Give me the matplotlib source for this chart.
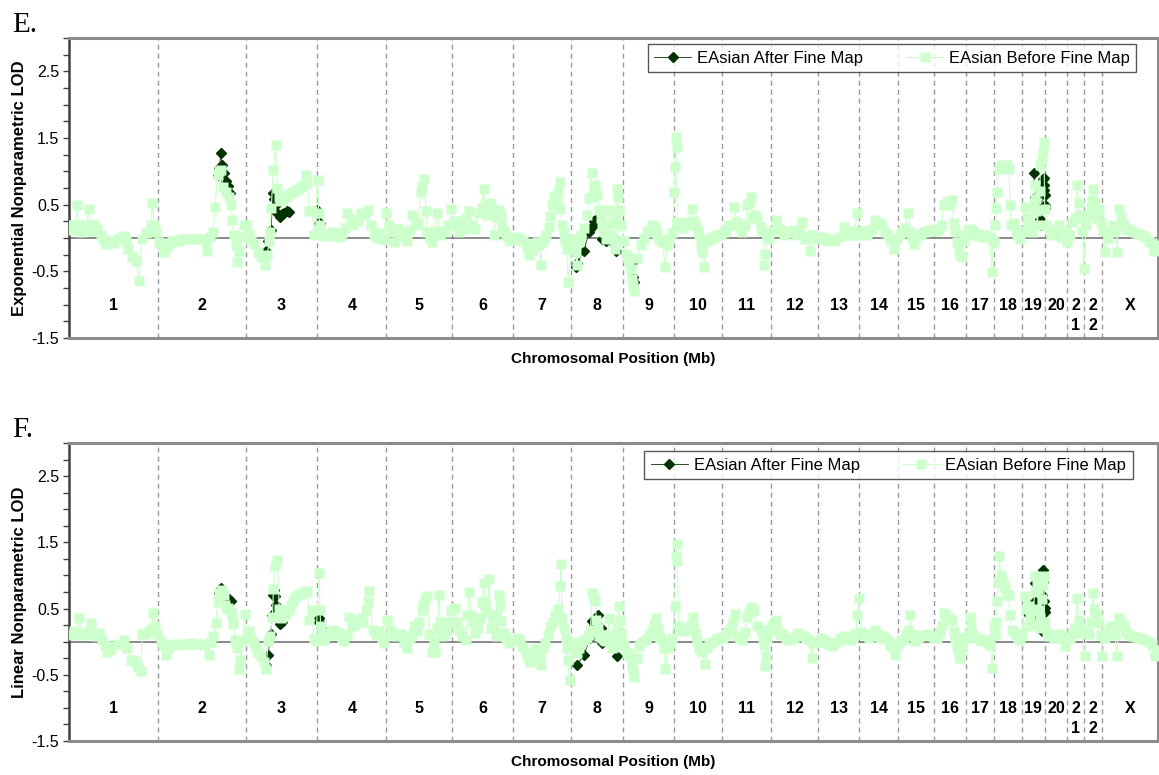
import numpy as np
import matplotlib
matplotlib.use("Agg")
import matplotlib.pyplot as plt
from matplotlib.ticker import MultipleLocator

plt.rcParams['font.family'] = ['Liberation Sans', 'DejaVu Sans']

# chromosome names, labels and lengths (Mb)
chroms = ['1', '2', '3', '4', '5', '6', '7', '8', '9', '10', '11', '12',
          '13', '14', '15', '16', '17', '18', '19', '20', '21', '22', 'X']
chrom_labels = ['1', '2', '3', '4', '5', '6', '7', '8', '9', '10', '11', '12',
                '13', '14', '15', '16', '17', '18', '19', '20', '2\n1', '2\n2', 'X']
chrom_len = [247, 243, 199, 191, 181, 171, 159, 146, 140, 135, 134, 132,
             114, 106, 100, 89, 79, 76, 64, 62, 47, 50, 155]

# exponential LOD, before fine mapping (genome position Mb, LOD)
e_before = [
    (0, 0.19), (4, 0.12), (9, 0.14), (13, 0.2), (18, 0.17), (23, 0.49), (27, 0.15), (32, 0.09), (37, 0.13),
    (42, 0.19), (48, 0.16), (55, 0.43), (60, 0.19), (64, 0.11), (69, 0.19), (74, 0.14), (79, 0.14), (88, 0.04),
    (93, -0.02), (102, -0.09), (108, -0.05), (116, -0.04), (124, -0.07), (140, 0.0), (148, 0.02), (152, 0.03),
    (157, -0.04), (165, -0.16), (174, -0.29), (185, -0.34), (194, -0.64), (202, -0.01), (213, 0.07), (227, 0.19),
    (231, 0.53), (236, 0.19), (242, 0.09),
    (250, -0.06), (257, -0.12), (264, -0.21), (273, -0.14), (280, -0.08), (287, -0.04), (296, -0.05), (305, -0.04),
    (314, -0.02), (324, -0.01), (337, -0.02), (351, -0.01), (365, -0.02), (379, -0.04), (384, -0.19), (392, 0.02),
    (400, 0.09), (405, 0.47), (412, 0.94), (417, 1.0), (421, 1.02), (427, 0.77), (435, 0.69), (444, 0.62),
    (450, 0.49), (453, 0.27), (458, 0.04), (462, -0.1), (467, -0.36), (472, -0.19), (481, 0.02), (486, 0.19),
    (493, 0.19), (499, 0.05), (504, -0.04), (513, -0.09), (523, -0.21), (532, -0.29), (543, -0.41), (550, -0.26),
    (555, -0.04), (558, 0.09), (561, 0.45), (566, 1.02), (573, 1.39), (578, 0.75), (581, 0.62), (586, 0.55),
    (592, 0.57), (601, 0.62), (608, 0.64), (615, 0.67), (622, 0.69), (629, 0.72), (636, 0.74), (643, 0.77),
    (650, 0.8), (657, 0.94), (661, 0.82), (666, 0.4), (675, 0.4), (680, 0.04),
    (690, 0.87), (692, 0.38), (696, 0.19), (703, 0.04), (710, 0.03), (717, 0.04), (724, 0.06), (731, 0.09),
    (737, 0.03), (744, 0.04), (751, 0.02), (758, 0.07), (765, 0.15), (772, 0.38), (781, 0.24), (788, 0.2),
    (795, 0.29), (802, 0.25), (809, 0.37), (818, 0.35), (828, 0.42), (837, 0.19), (846, 0.04), (853, 0.0),
    (860, 0.07), (867, -0.02), (874, -0.01), (880, 0.38),
    (888, 0.19), (895, 0.1), (902, -0.06), (911, 0.14), (918, 0.08), (925, 0.02), (931, 0.06), (938, -0.04),
    (945, 0.12), (952, 0.34), (962, 0.19), (968, 0.23), (976, 0.69), (980, 0.78), (985, 0.89), (990, 0.4),
    (994, 0.09), (1000, 0.0), (1007, -0.06), (1014, 0.1), (1021, 0.38), (1030, 0.04), (1037, 0.1), (1044, 0.09),
    (1052, 0.2), (1058, 0.44),
    (1067, 0.19), (1074, 0.25), (1081, 0.09), (1088, 0.2), (1095, 0.14), (1102, 0.3), (1109, 0.4), (1118, 0.19),
    (1127, 0.14), (1137, 0.38), (1144, 0.45), (1150, 0.74), (1155, 0.5), (1160, 0.34), (1169, 0.52), (1174, 0.4),
    (1178, 0.04), (1187, 0.32), (1192, 0.42), (1197, 0.34), (1201, 0.19), (1206, 0.1), (1211, 0.04), (1218, 0.0),
    (1224, -0.04),
    (1238, -0.01), (1245, 0.02), (1252, -0.01), (1259, -0.05), (1266, -0.09), (1272, -0.15), (1277, -0.26),
    (1283, -0.18), (1289, -0.11), (1298, -0.06), (1303, -0.1), (1308, -0.41), (1312, -0.06), (1317, -0.01),
    (1324, 0.05), (1331, 0.17), (1333, 0.33), (1340, 0.5), (1345, 0.63), (1352, 0.55), (1357, 0.7), (1361, 0.84),
    (1363, 0.44), (1368, 0.2), (1372, 0.07), (1376, -0.05), (1380, -0.16), (1384, -0.66),
    (1395, -0.01), (1400, -0.1), (1405, -0.21), (1409, -0.41), (1414, -0.06), (1421, 0.04), (1428, 0.15),
    (1437, 0.34), (1443, 0.6), (1449, 0.97), (1451, 0.62), (1455, 0.7), (1460, 0.79), (1465, 0.64), (1470, 0.42),
    (1475, 0.3), (1479, 0.19), (1483, 0.09), (1488, -0.01), (1492, 0.1), (1497, 0.42), (1502, 0.22), (1507, 0.05),
    (1511, -0.01), (1514, -0.16), (1518, 0.3), (1520, 0.74), (1523, 0.62), (1525, 0.42), (1532, 0.19),
    (1540, -0.05), (1544, -0.24), (1549, -0.3), (1553, -0.36), (1559, -0.46), (1562, -0.61), (1565, -0.71),
    (1567, -0.79), (1576, -0.3), (1585, -0.11), (1595, 0.0), (1604, 0.09), (1610, 0.12), (1617, 0.19),
    (1622, 0.16), (1627, 0.14), (1632, 0.05), (1636, -0.01), (1645, -0.06), (1654, -0.44), (1658, -0.1),
    (1664, -0.01), (1673, 0.07),
    (1679, 0.69), (1680, 1.07), (1682, 1.52), (1685, 1.37), (1687, 0.24), (1692, 0.2), (1696, 0.19), (1703, 0.15),
    (1710, 0.24), (1719, 0.2), (1728, 0.44), (1733, 0.25), (1738, 0.19), (1743, 0.1), (1747, 0.04), (1752, -0.1),
    (1756, -0.21), (1761, -0.44), (1768, -0.05), (1775, -0.01), (1782, 0.0), (1789, 0.02), (1796, 0.05),
    (1802, 0.04), (1808, 0.06),
    (1816, 0.09), (1823, 0.12), (1830, 0.19), (1837, 0.2), (1844, 0.47), (1853, 0.24), (1860, 0.15), (1867, 0.09),
    (1874, 0.2), (1881, 0.49), (1886, 0.52), (1890, 0.62), (1895, 0.32), (1902, 0.35), (1909, 0.29), (1918, 0.17),
    (1923, 0.1), (1927, -0.41), (1930, -0.24), (1935, 0.04), (1941, -0.01),
    (1952, 0.1), (1960, 0.27), (1969, 0.14), (1976, 0.1), (1983, 0.04), (1992, 0.08), (2001, 0.09), (2010, 0.12),
    (2019, 0.04), (2026, 0.1), (2032, 0.24), (2042, -0.01), (2049, 0.02), (2056, -0.19), (2060, 0.04),
    (2067, 0.05), (2074, -0.01),
    (2085, 0.02), (2093, -0.01), (2100, 0.0), (2106, -0.04), (2115, -0.02), (2125, -0.04), (2135, 0.02),
    (2148, 0.17), (2157, 0.04), (2164, 0.1), (2171, 0.04), (2178, 0.1), (2185, 0.38), (2190, 0.04),
    (2199, 0.09), (2206, 0.1), (2213, 0.04), (2220, 0.12), (2227, 0.14), (2236, 0.27), (2245, 0.19), (2250, 0.22),
    (2255, 0.19), (2264, 0.09), (2271, 0.05), (2278, -0.01), (2283, -0.05), (2287, -0.16), (2296, -0.01),
    (2304, 0.05), (2310, 0.09), (2318, 0.15), (2328, 0.38), (2333, 0.09), (2338, 0.0), (2342, -0.09), (2350, 0.0),
    (2356, 0.04), (2363, 0.06), (2370, 0.09), (2377, 0.1), (2384, 0.12), (2391, 0.1), (2398, 0.14),
    (2405, 0.1), (2412, 0.14), (2420, 0.2), (2426, 0.49), (2435, 0.54), (2442, 0.5), (2449, 0.57), (2453, 0.22),
    (2458, 0.1), (2463, -0.06), (2467, -0.19), (2472, -0.25), (2476, -0.29), (2481, -0.05), (2486, 0.04),
    (2494, 0.1), (2500, 0.14), (2507, 0.1), (2513, 0.04), (2520, 0.06), (2526, 0.03), (2532, 0.02), (2539, 0.05),
    (2546, 0.02), (2553, 0.0), (2560, -0.51), (2562, -0.04), (2565, -0.06),
    (2569, 0.19), (2572, 0.45), (2574, 0.69), (2578, 1.04), (2583, 1.06), (2588, 1.09), (2595, 1.07), (2601, 1.09),
    (2606, 1.04), (2610, 0.5), (2613, 0.19), (2620, 0.22), (2625, 0.1), (2629, 0.04), (2634, 0.06), (2638, -0.01),
    (2648, 0.1), (2652, 0.47), (2657, 0.3), (2662, 0.19), (2667, 0.15), (2671, 0.09), (2675, 0.5), (2678, 0.79),
    (2680, 0.59), (2683, 0.4), (2685, 0.19), (2689, 0.42), (2692, 0.7), (2694, 1.09), (2698, 1.19), (2701, 1.3),
    (2703, 1.44), (2706, 0.44),
    (2710, 0.2), (2717, 0.14), (2724, 0.05), (2731, 0.09), (2738, 0.1), (2745, 0.19), (2752, 0.02), (2759, 0.04),
    (2765, 0.1), (2768, -0.06),
    (2775, 0.05), (2782, 0.24), (2789, 0.3), (2796, 0.8), (2800, 0.52), (2805, 0.34), (2810, 0.1), (2814, -0.46),
    (2820, 0.2), (2828, 0.34), (2834, 0.45), (2837, 0.57), (2840, 0.74), (2846, 0.52), (2851, 0.3), (2856, 0.44),
    (2863, 0.24),
    (2868, 0.1), (2874, -0.21), (2881, 0.0), (2888, 0.09), (2895, 0.2), (2902, 0.1), (2907, -0.21), (2911, 0.44),
    (2918, 0.3), (2925, 0.19), (2932, 0.12), (2939, 0.14), (2948, 0.1), (2958, 0.07), (2967, 0.06), (2976, 0.04),
    (2985, 0.02), (2994, -0.04), (3002, -0.08), (3008, -0.19), (3018, -0.11),
]

# exponential LOD, after fine mapping
e_after = [
    (412, 0.94), (417, 1.05), (421, 1.28), (424, 1.1), (430, 0.97), (436, 0.85), (442, 0.78), (446, 0.68),
    (546, -0.19), (552, -0.05), (560, 0.12), (566, 0.67), (569, 0.59), (573, 0.49), (578, 0.37), (585, 0.32),
    (592, 0.36), (597, 0.37), (604, 0.4), (610, 0.39),
    (689, 0.42), (692, 0.23), (695, 0.22),
    (1405, -0.44), (1409, -0.38), (1428, -0.19), (1442, 0.09), (1446, 0.14), (1451, 0.17), (1455, 0.25),
    (1460, 0.24), (1465, 0.3), (1470, 0.29), (1479, -0.01), (1488, -0.04), (1516, -0.19),
    (1555, -0.3), (1562, -0.37), (1564, -0.59), (1567, -0.66),
    (2675, 0.97), (2680, 0.62), (2686, 0.45), (2692, 0.28), (2696, 0.2), (2701, 0.88), (2703, 0.9),
    (2704, 0.8), (2705, 0.72), (2706, 0.64), (2707, 0.5), (2708, 0.45),
]

# linear LOD, before fine mapping
f_before = [
    (0, 0.11), (7, 0.1), (14, 0.16), (21, 0.12), (28, 0.36), (35, 0.1), (42, 0.11), (50, 0.15), (60, 0.28),
    (65, 0.12), (69, 0.11), (76, 0.09), (83, 0.13), (92, 0.03), (99, -0.05), (106, -0.15), (113, -0.12),
    (120, -0.07), (135, -0.03), (153, 0.03), (162, -0.1), (171, -0.27), (178, -0.28), (185, -0.32), (192, -0.38),
    (199, -0.45), (203, 0.11), (212, 0.12), (222, 0.16), (229, 0.2), (234, 0.43), (239, 0.23), (245, 0.11),
    (254, 0.01), (261, -0.05), (268, -0.2), (275, -0.1), (282, -0.05), (292, -0.04), (305, -0.05), (318, -0.03),
    (330, -0.03), (342, -0.02), (355, -0.03), (365, -0.04), (375, -0.05), (387, -0.2), (393, 0.0), (400, 0.08),
    (407, 0.28), (412, 0.6), (416, 0.74), (421, 0.78), (425, 0.76), (429, 0.7), (433, 0.56), (437, 0.5),
    (442, 0.51), (448, 0.45), (453, 0.41), (455, 0.26), (461, 0.03), (466, -0.1), (472, -0.42), (474, -0.27),
    (481, 0.01), (488, 0.42),
    (493, 0.05), (499, 0.16), (506, 0.05), (513, -0.02), (518, -0.1), (523, -0.15), (532, -0.22), (540, -0.3),
    (546, -0.42), (553, 0.01), (558, 0.08), (564, 0.38), (567, 0.8), (571, 1.14), (578, 1.24), (583, 0.5),
    (587, 0.36), (592, 0.38), (597, 0.41), (603, 0.45), (610, 0.48), (615, 0.55), (620, 0.61), (627, 0.67),
    (634, 0.71), (640, 0.72), (647, 0.74), (654, 0.75), (661, 0.76), (666, 0.33), (673, 0.48), (680, 0.05),
    (684, 0.01),
    (694, 1.04), (696, 0.48), (698, 0.23), (703, 0.1), (708, 0.03), (714, 0.08), (721, 0.13), (728, 0.15),
    (735, 0.18), (742, 0.1), (749, 0.13), (756, 0.05), (763, 0.01), (770, 0.1), (777, 0.38), (786, 0.23),
    (793, 0.25), (800, 0.31), (809, 0.36), (816, 0.3), (823, 0.48), (828, 0.6), (832, 0.76), (842, 0.18),
    (851, 0.1), (860, 0.16), (867, 0.05), (874, -0.02), (883, 0.33),
    (892, 0.18), (899, 0.1), (906, 0.08), (913, 0.12), (920, 0.11), (929, 0.0), (938, -0.1), (945, 0.05),
    (950, 0.1), (957, 0.23), (966, 0.16), (972, 0.3), (978, 0.48), (983, 0.55), (988, 0.64), (994, 0.69),
    (999, 0.11), (1006, -0.15), (1011, 0.0), (1016, -0.15), (1021, 0.2), (1026, 0.7), (1030, 0.3), (1035, 0.08),
    (1042, 0.12), (1049, 0.18), (1054, 0.3), (1058, 0.48),
    (1064, 0.3), (1070, 0.51), (1075, 0.3), (1081, 0.18), (1090, 0.08), (1100, 0.03), (1105, 0.4), (1109, 0.75),
    (1116, 0.41), (1121, 0.3), (1127, 0.13), (1134, 0.2), (1141, 0.36), (1146, 0.6), (1150, 0.89), (1155, 0.56),
    (1160, 0.45), (1166, 0.94), (1169, 0.21), (1174, 0.38), (1178, 0.2), (1183, 0.08), (1188, 0.4), (1192, 0.71),
    (1194, 0.55), (1199, 0.31), (1206, 0.13), (1213, 0.05), (1220, -0.02), (1227, 0.02),
    (1238, 0.03), (1245, 0.05), (1252, 0.01), (1259, -0.08), (1266, -0.17), (1272, -0.25), (1278, -0.3),
    (1284, -0.2), (1289, -0.15), (1295, -0.1), (1301, -0.17), (1306, -0.25), (1310, -0.35), (1315, -0.1),
    (1321, -0.02), (1327, 0.1), (1333, 0.23), (1341, 0.3), (1349, 0.41), (1356, 0.5), (1363, 0.84), (1364, 1.18),
    (1368, 0.36), (1372, 0.21), (1377, 0.06), (1381, -0.1), (1384, -0.27), (1388, -0.58),
    (1395, 0.0), (1400, -0.05), (1405, -0.1), (1409, -0.17), (1414, -0.1), (1419, -0.02), (1428, 0.02),
    (1437, 0.06), (1442, 0.1), (1446, 0.18), (1451, 0.73), (1456, 0.66), (1460, 0.61), (1462, 0.33), (1466, 0.2),
    (1470, 0.11), (1475, 0.08), (1479, 0.06), (1484, 0.03), (1490, 0.01), (1494, 0.1), (1497, 0.36), (1502, 0.05),
    (1507, -0.1), (1511, -0.08), (1516, -0.05), (1521, 0.2), (1525, 0.54), (1527, 0.33), (1530, 0.13),
    (1534, -0.02),
    (1540, -0.05), (1548, -0.17), (1553, -0.2), (1557, -0.22), (1562, -0.37), (1565, -0.45), (1567, -0.53),
    (1574, -0.25), (1581, -0.07), (1590, 0.0), (1599, 0.03), (1608, 0.1), (1617, 0.18), (1623, 0.25), (1629, 0.36),
    (1633, 0.2), (1636, 0.08), (1640, 0.05), (1645, 0.03), (1650, -0.1), (1654, -0.42), (1660, -0.1),
    (1666, -0.02), (1673, 0.06),
    (1680, 0.54), (1682, 1.29), (1685, 1.48), (1687, 1.22), (1691, 0.23), (1698, 0.18), (1705, 0.16), (1712, 0.2),
    (1719, 0.18), (1725, 0.25), (1730, 0.38), (1734, 0.2), (1738, 0.11), (1742, 0.0), (1747, -0.1), (1752, -0.12),
    (1756, -0.15), (1764, -0.33), (1770, -0.1), (1775, -0.02), (1784, 0.0), (1793, 0.03), (1800, 0.05),
    (1807, 0.06),
    (1814, 0.05), (1821, 0.11), (1828, 0.15), (1835, 0.21), (1841, 0.3), (1847, 0.42), (1853, 0.08), (1860, 0.05),
    (1867, 0.03), (1874, 0.15), (1881, 0.38), (1886, 0.45), (1890, 0.53), (1895, 0.5), (1900, 0.48), (1909, 0.23),
    (1918, 0.18), (1924, 0.05), (1927, -0.05), (1930, -0.37), (1932, -0.22), (1936, 0.05), (1941, 0.18),
    (1950, 0.25), (1960, 0.33), (1964, 0.18), (1971, 0.12), (1978, 0.11), (1988, 0.05), (1997, 0.03), (2004, 0.05),
    (2010, 0.06), (2016, 0.1), (2023, 0.13), (2030, 0.1), (2037, 0.08), (2044, 0.05), (2051, 0.03), (2060, -0.25),
    (2064, 0.0), (2069, -0.02), (2075, 0.0),
    (2085, 0.05), (2093, 0.03), (2100, 0.0), (2108, -0.03), (2116, -0.07), (2125, -0.02), (2134, 0.01),
    (2142, 0.05), (2153, 0.08), (2160, 0.05), (2167, 0.03), (2174, 0.06), (2181, 0.11), (2186, 0.41), (2190, 0.66),
    (2197, 0.15), (2204, 0.11), (2211, 0.1), (2218, 0.06), (2227, 0.12), (2236, 0.18), (2243, 0.12), (2250, 0.06),
    (2257, 0.08), (2264, 0.06), (2271, 0.02), (2278, -0.05), (2284, -0.1), (2290, -0.2), (2295, -0.05),
    (2303, 0.0), (2309, 0.02), (2315, 0.03), (2322, 0.1), (2328, 0.18), (2333, 0.41), (2340, 0.1), (2347, 0.01),
    (2354, 0.05), (2361, 0.08), (2370, 0.1), (2379, 0.11), (2386, 0.1), (2393, 0.08),
    (2400, 0.05), (2407, 0.06), (2415, 0.15), (2420, 0.25), (2426, 0.43), (2433, 0.4), (2440, 0.36), (2449, 0.33),
    (2453, 0.16), (2458, 0.05), (2463, -0.1), (2467, -0.2), (2472, -0.25), (2477, -0.1), (2481, 0.06),
    (2486, 0.05),
    (2494, 0.1), (2500, 0.38), (2502, 0.23), (2507, 0.1), (2513, 0.06), (2520, 0.05), (2526, 0.03), (2532, 0.01),
    (2540, 0.02), (2549, -0.02), (2555, -0.05), (2560, -0.4), (2564, 0.23),
    (2569, 0.1), (2572, 0.3), (2574, 0.61), (2577, 0.9), (2580, 1.29), (2584, 1.0), (2588, 0.91), (2593, 0.85),
    (2597, 0.81), (2602, 0.7), (2606, 0.71), (2610, 0.4), (2615, 0.18), (2620, 0.15), (2625, 0.11), (2631, 0.05),
    (2638, 0.03), (2643, 0.1),
    (2650, 0.69), (2654, 0.5), (2657, 0.23), (2662, 0.54), (2666, 0.38), (2670, 0.25), (2675, 0.5), (2678, 0.75),
    (2680, 0.99), (2684, 0.85), (2687, 0.79), (2689, 0.48), (2692, 0.35), (2694, 0.21), (2697, 0.64), (2700, 0.85),
    (2703, 0.99), (2706, 0.3),
    (2712, 0.15), (2717, 0.08), (2724, 0.1), (2731, 0.06), (2738, 0.05), (2745, 0.11), (2752, 0.08),
    (2761, -0.07), (2766, 0.05),
    (2775, 0.05), (2782, 0.11), (2789, 0.2), (2796, 0.66), (2800, 0.33), (2805, 0.2), (2810, 0.13), (2817, -0.22),
    (2822, 0.15), (2828, 0.11), (2834, 0.3), (2840, 0.73), (2843, 0.5), (2846, 0.33), (2851, 0.4), (2856, 0.28),
    (2861, 0.1), (2865, -0.22),
    (2872, 0.05), (2879, 0.13), (2886, 0.2), (2893, 0.23), (2900, 0.1), (2907, -0.21), (2911, 0.36), (2918, 0.3),
    (2925, 0.23), (2932, 0.15), (2940, 0.1), (2948, 0.08), (2958, 0.07), (2967, 0.06), (2976, 0.05), (2985, 0.03),
    (2995, 0.0), (3004, -0.05), (3013, -0.22), (3019, -0.12),
]

# linear LOD, after fine mapping
f_after = [
    (416, 0.74), (421, 0.81), (427, 0.72), (433, 0.6), (439, 0.66), (444, 0.64), (449, 0.62),
    (546, -0.35), (552, -0.2), (559, 0.11), (564, 0.41), (567, 0.7), (569, 0.78), (571, 0.69), (575, 0.56),
    (578, 0.5), (585, 0.26), (592, 0.3), (600, 0.4),
    (692, 0.36), (694, 0.3), (696, 0.28), (698, 0.21),
    (1409, -0.35), (1428, -0.2), (1446, 0.06), (1451, 0.31), (1456, 0.25), (1462, 0.21), (1468, 0.41),
    (1474, 0.2), (1479, -0.02), (1520, -0.22),
    (2660, 0.42), (2675, 0.41), (2678, 0.61), (2680, 0.89), (2697, 0.16), (2698, 0.71), (2700, 1.08),
    (2701, 0.9), (2703, 0.61), (2705, 0.5), (2706, 0.45), (2708, 0.51),
]

LIGHT = '#ccffcc'
DARK = '#003300'

starts = np.concatenate([[0], np.cumsum(chrom_len)[:-1]])
ends = np.cumsum(chrom_len)
mids = starts + np.array(chrom_len) / 2.0


def runs(points, gap=40):
    # split into separate stretches so distant fine-mapped regions are not joined
    pts = np.array(points, dtype=float)
    cut = np.where(np.diff(pts[:, 0]) > gap)[0] + 1
    return np.split(pts, cut)


def draw_panel(ax, before, after, ylabel, leg_anchor):
    for b in ends[:-1]:
        ax.axvline(b, color='#9a9a9a', lw=1.0, ls=(0, (3.6, 2.9)), zorder=1)
    ax.axhline(0, color='#808080', lw=1.3, zorder=2)

    for i, seg in enumerate(runs(after)):
        ax.plot(seg[:, 0], seg[:, 1], color=DARK, lw=0.6, marker='D', ms=5.5,
                mec=DARK, mfc=DARK, zorder=3,
                label='EAsian After Fine Map' if i == 0 else None)
    bp = np.array(before, dtype=float)
    ax.plot(bp[:, 0], bp[:, 1], color=LIGHT, lw=0.8, marker='s', ms=7.4,
            mec='none', mfc=LIGHT, zorder=4, label='EAsian Before Fine Map')

    for lab, m in zip(chrom_labels, mids):
        ax.text(m, -0.9, lab, ha='center', va='top', fontsize=11.5,
                fontweight='bold', linespacing=1.4, zorder=5)

    ax.set_xlim(0, ends[-1])
    ax.set_ylim(-1.5, 3.0)
    ax.set_xticks([])
    ax.set_yticks([-1.5, -0.5, 0.5, 1.5, 2.5])
    ax.set_yticklabels(['-1.5', '-0.5', '0.5', '1.5', '2.5'])
    ax.yaxis.set_minor_locator(MultipleLocator(0.25))
    ax.tick_params(axis='y', which='both', direction='out', length=4,
                   width=1, color='#404040', labelsize=11.5, pad=3)
    for side in ['top', 'right', 'bottom']:
        ax.spines[side].set_color('#8c8c8c')
        ax.spines[side].set_linewidth(2.2)
    ax.spines['left'].set_color('#404040')
    ax.spines['left'].set_linewidth(1.8)

    ax.set_ylabel(ylabel, fontsize=12, fontweight='bold', labelpad=3)
    ax.set_xlabel('Chromosomal Position (Mb)', fontsize=11, fontweight='bold', labelpad=10)

    leg = ax.legend(loc='upper right', bbox_to_anchor=leg_anchor, ncol=2,
                    fontsize=12, frameon=True, fancybox=False, borderaxespad=0,
                    handlelength=2.2, handletextpad=0.35, columnspacing=2.6,
                    borderpad=0.4)
    leg.get_frame().set_edgecolor('#303030')
    leg.get_frame().set_linewidth(1.0)


fig = plt.figure(figsize=(11.59, 7.75), dpi=100)
ax_e = fig.add_axes([69 / 1159, 1 - 338 / 775, 1089 / 1159, 300 / 775])
ax_f = fig.add_axes([69 / 1159, 1 - 741 / 775, 1089 / 1159, 298 / 775])

draw_panel(ax_e, e_before, e_after, 'Exponential Nonparametric LOD', (0.980, 0.98))
draw_panel(ax_f, f_before, f_after, 'Linear Nonparametric LOD', (0.977, 0.973))

fig.text(12 / 1159, 1 - 32 / 775, 'E.', family='Liberation Serif', fontsize=21, va='baseline')
fig.text(12 / 1159, 1 - 437 / 775, 'F.', family='Liberation Serif', fontsize=21, va='baseline')

fig.savefig('out.png', dpi=100)
